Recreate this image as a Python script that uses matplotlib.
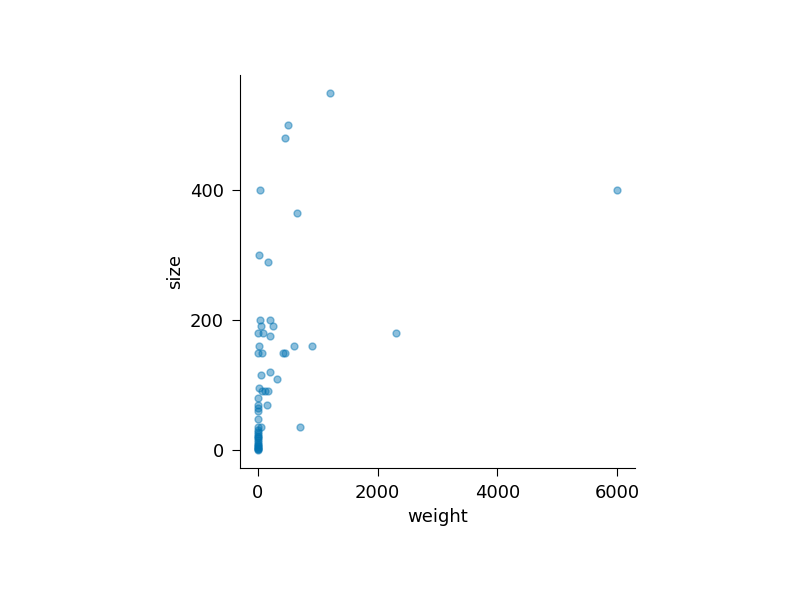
import matplotlib
matplotlib.use("Agg")
import matplotlib.pyplot as plt

plt.rcParams["font.size"] = 13
plt.rcParams["xtick.major.size"] = 6
plt.rcParams["ytick.major.size"] = 6
plt.rcParams["xtick.major.pad"] = 5.5
plt.rcParams["ytick.major.pad"] = 5.5

weight = [1200, 500, 450, 40, 6000, 650, 10, 165,
          28, 205, 50, 255, 5, 90, 200, 2300,
          10, 600, 900, 0, 67, 410, 445,
          45, 195, 315, 10, 60, 115, 170,
          5, 3, 150, 4, 2, 3, 0, 50, 700,
          2, 1, 3, 0, 2, 1, 4, 0, 1, 2, 0, 1, 0, 3, 1, 0]
size = [550, 500, 480, 400, 400, 365, 300, 290,
        200, 200, 191, 191, 180, 180, 175, 180,
        160, 160, 160, 150, 150, 150, 150,
        115, 121, 110, 96, 91, 91, 91,
        81, 70, 69, 65, 60, 48, 36, 36, 36,
        31, 28, 25, 22, 20, 18, 15, 12, 10, 8, 6, 5, 3, 2, 1, 0]

fig = plt.figure(figsize=(8, 6), dpi=100)
ax = fig.add_axes([0.3, 0.22, 0.494, 0.655])
ax.scatter(weight, size, s=25, color="#0173b2", alpha=0.45)
ax.set_xlabel("weight")
ax.set_ylabel("size")
ax.set_xticks([0, 2000, 4000, 6000])
ax.set_yticks([0, 200, 400])
ax.spines["top"].set_visible(False)
ax.spines["right"].set_visible(False)
fig.savefig("out.png")
